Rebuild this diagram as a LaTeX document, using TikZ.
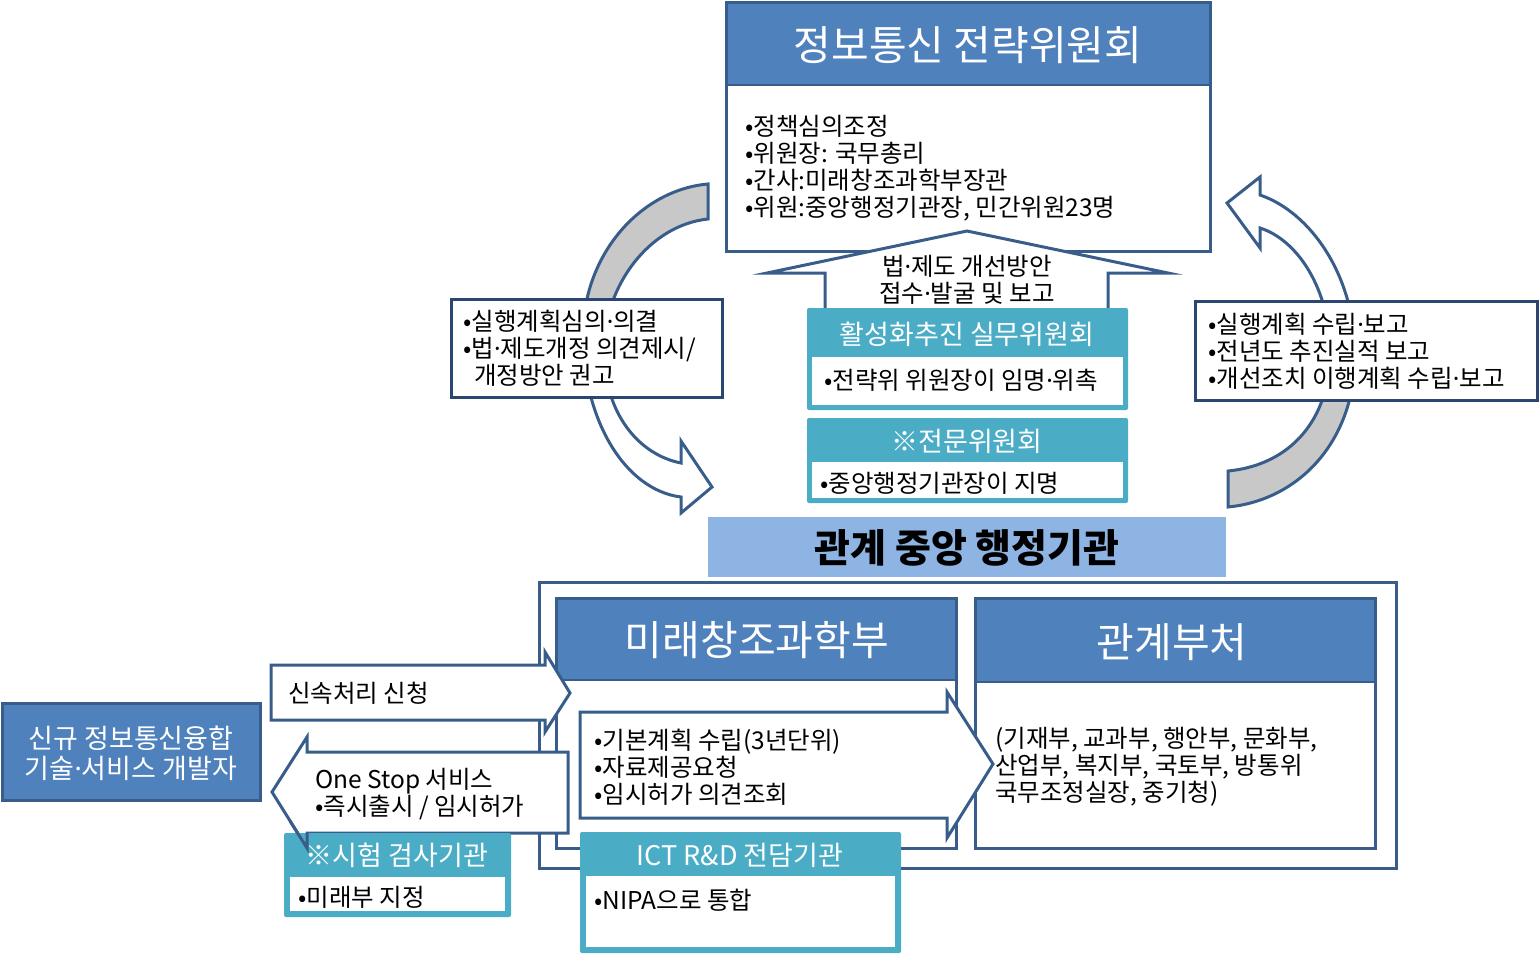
\documentclass[tikz,border=0pt]{standalone}
\usepackage{fontspec}
\setmainfont{Noto Sans CJK KR}
\newfontfamily\dotfont{Noto Sans}
\newcommand\mdt{{\dotfont ·}}
\definecolor{hdr}{HTML}{4F81BD}
\definecolor{bdr}{HTML}{385D8A}
\definecolor{dkb}{HTML}{2B4670}
\definecolor{tealc}{HTML}{4BACC6}
\definecolor{lbar}{HTML}{8EB4E3}
\definecolor{gcol}{HTML}{C8C8C8}
\pgfdeclareverticalshading{grayTop}{100bp}{color(0bp)=(white); color(42bp)=(white); color(58bp)=(gcol); color(100bp)=(gcol)}
\pgfdeclareverticalshading{grayBottom}{100bp}{color(0bp)=(gcol); color(40bp)=(gcol); color(56bp)=(white); color(100bp)=(white)}
\tikzset{
  body/.style={font=\fontsize{24.5}{27}\selectfont, inner sep=0pt, align=left, anchor=west, text=black},
  bigtitle/.style={font=\fontsize{41}{44}\selectfont, text=white, inner sep=0pt},
  tealtitle/.style={font=\fontsize{27}{30}\selectfont, text=white, inner sep=0pt},
  frame/.style={draw=bdr, line width=3pt},
  darkframe/.style={draw=dkb, line width=3pt, fill=white},
  blockarrow/.style={draw=bdr, line width=3pt, fill=white, line join=miter},
}
\begin{document}
\begin{tikzpicture}[x=1pt,y=-1pt]
\useasboundingbox (0,0) rectangle (1539,954);

% curved arrows
\shadedraw[shading=grayTop, draw=bdr, line width=3pt]
  (708,184) .. controls (640,190) and (583,255) .. (583,335)
  .. controls (583,420) and (625,490) .. (681,497)
  -- (681,513) -- (712,487) -- (681,441) -- (681,463)
  .. controls (640,455) and (604,415) .. (604,350)
  .. controls (604,285) and (650,225) .. (708,219) -- cycle;
\shadedraw[shading=grayBottom, draw=bdr, line width=3pt]
  (1228,507) .. controls (1300,500) and (1355,440) .. (1355,355)
  .. controls (1355,275) and (1310,212) .. (1260,195)
  -- (1260,177) -- (1227,203) -- (1260,248) -- (1260,228)
  .. controls (1298,240) and (1330,290) .. (1330,352)
  .. controls (1330,420) and (1290,465) .. (1228,471) -- cycle;

% side label boxes
\draw[darkframe] (451,299) rectangle (722,397);
\node[body] (lbl) at (463,348) {•실행계획심의\mdt 의결\\•법\mdt 제도개정 의견제시/\\\hspace*{11pt}개정방안 권고};
\draw[darkframe] (1195,301) rectangle (1537,400);
\node[body] (rbl) at (1208,351) {•실행계획 수립\mdt 보고\\•전년도 추진실적 보고\\•개선조치 이행계획 수립\mdt 보고};

% top committee box
\fill[white] (726,2) rectangle (1210,251);
\fill[hdr] (726,2) rectangle (1210,85);
\draw[bdr, line width=2pt] (726,85) -- (1210,85);
\draw[frame] (726,2) rectangle (1210,251);
\node[bigtitle] (top) at (968,45) {정보통신 전략위원회};
\node[body] (topbody) at (745,168) {•정책심의조정\\•위원장: 국무총리\\•간사:미래창조과학부장관\\•위원:중앙행정기관장, 민간위원23명};

% up arrow
\draw[blockarrow] (967,231) -- (1168,273) -- (1108,273) -- (1108,312) -- (825,312) -- (825,273) -- (767,273) -- cycle;
\node[body, anchor=center, align=center] (uparr) at (967,280) {법\mdt 제도 개선방안\\접수\mdt 발굴 및 보고};

% teal committees
\fill[tealc, rounded corners=2pt] (807,308) rectangle (1128,410);
\fill[white] (812,357) rectangle (1123,405);
\node[tealtitle] (wc1) at (967,334) {활성화추진 실무위원회};
\node[body] (wc1b) at (824,380) {•전략위 위원장이 임명\mdt 위촉};
\fill[tealc, rounded corners=2pt] (807,418) rectangle (1128,503);
\fill[white] (812,462) rectangle (1123,498);
\node[tealtitle] (wc2) at (967,441) {※전문위원회};
\node[body] (wc2b) at (820,483) {•중앙행정기관장이 지명};

% central bar
\fill[lbar] (708,517) rectangle (1226,577);
\node[font=\fontsize{39}{42}\selectfont\bfseries, inner sep=0pt] (bar) at (967,548) {관계 중앙 행정기관};

% outer box
\draw[frame, fill=white] (539,582) rectangle (1396,868);

% Ministry box
\fill[white] (556,598) rectangle (956,848);
\fill[hdr] (556,598) rectangle (956,680);
\draw[bdr, line width=2pt] (556,680) -- (956,680);
\draw[frame] (556,598) rectangle (956,848);
\node[bigtitle] (msit) at (757,640) {미래창조과학부};

% related ministries
\fill[white] (975,598) rectangle (1375,848);
\fill[hdr] (975,598) rectangle (1375,682);
\draw[bdr, line width=2pt] (975,682) -- (1375,682);
\draw[frame] (975,598) rectangle (1375,848);
\node[bigtitle] (rel) at (1172,642) {관계부처};
\node[body] (relb) at (995,767) {(기재부, 교과부, 행안부, 문화부,\\산업부, 복지부, 국토부, 방통위\\국무조정실장, 중기청)};

% right block arrow inside
\draw[blockarrow] (580,712) -- (947,712) -- (947,692) -- (993,764) -- (947,838) -- (947,818) -- (580,818) -- cycle;
\node[body] (plan) at (594,767) {•기본계획 수립(3년단위)\\•자료제공요청\\•임시허가 의견조회};

% ICT R&D
\fill[tealc, rounded corners=2pt] (580,832) rectangle (901,953);
\fill[white] (586,876) rectangle (895,947);
\node[tealtitle] (ict) at (740,855) {ICT R\&D 전담기관};
\node[body] (ictb) at (594,900) {•NIPA으로 통합};

% developer box
\draw[frame, fill=hdr] (2,703) rectangle (260,800);
\node[font=\fontsize{27}{30}\selectfont, text=white, align=center, inner sep=0pt] (dev) at (131,753) {신규 정보통신융합\\기술\mdt 서비스 개발자};

% request arrow
\draw[blockarrow] (271,665) -- (545,665) -- (545,652) -- (570,693) -- (545,732) -- (545,720) -- (271,720) -- cycle;
\node[body] (req) at (288,693) {신속처리 신청};

% one stop arrow
\draw[blockarrow] (568,752) -- (307,752) -- (307,737) -- (272,792) -- (307,848) -- (307,833) -- (568,833) -- cycle;
\node[body] (ones) at (315,794) {One Stop 서비스\\•즉시출시 / 임시허가};

% test agency
\fill[tealc, rounded corners=2pt] (284,833) rectangle (511,917);
\fill[white] (290,877) rectangle (505,911);
\node[tealtitle] (test) at (397,855) {※시험 검사기관};
\node[body] (testb) at (298,897) {•미래부 지정};
\draw[bdr, line width=3pt] (307,833) -- (307,848) -- (290,821);
\end{tikzpicture}
\end{document}
